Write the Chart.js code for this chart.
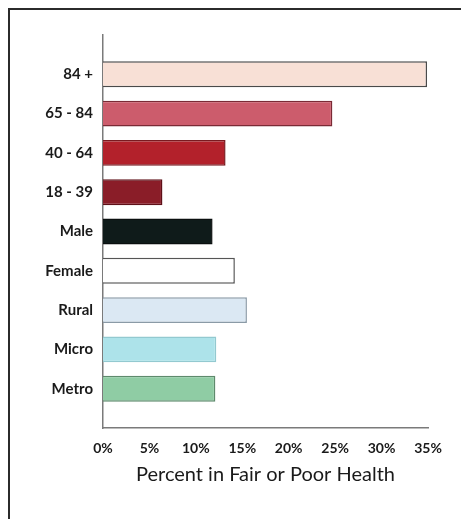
<!DOCTYPE html>
<html>
<head>
<meta charset="utf-8">
<script src="https://cdn.jsdelivr.net/npm/chart.js@4/dist/chart.umd.min.js"></script>
<style>
  html, body { margin: 0; padding: 0; background: #fff; }
  #wrap { width: 461px; height: 519px; }
</style>
</head>
<body>
<div id="wrap"><canvas id="myChart" width="461" height="519"></canvas></div>
<script>
// Data
var categories = ['84 +', '65 - 84', '40 - 64', '18 - 39', 'Male', 'Female', 'Rural', 'Micro', 'Metro'];
var percentFairPoor = [34.9, 24.7, 13.2, 6.4, 11.8, 14.2, 15.5, 12.2, 12.1];
var xTicks = [0, 5, 10, 15, 20, 25, 30, 35];

var fillColors = ['#f8e0d6', '#cc5c6c', '#b3212b', '#8a1d28', '#0f1b1a', '#ffffff', '#dbe8f3', '#ade3ea', '#8fcca4'];
var edgeColors = ['#4a4a4a', '#7a2a35', '#7a1a20', '#5e1018', '#0a0f0f', '#555555', '#8a9aa6', '#93c9d0', '#5e8a6c'];

var points = percentFairPoor.map(function (v, i) { return { x: v, y: i }; });

// outer frame
var framePlugin = {
  id: 'frame',
  beforeDraw: function (chart) {
    var c = chart.ctx;
    c.save();
    c.fillStyle = '#fff';
    c.fillRect(0, 0, chart.width, chart.height);
    c.strokeStyle = '#2b2b2b';
    c.lineWidth = 2;
    c.beginPath();
    c.moveTo(9, chart.height);
    c.lineTo(9, 9);
    c.lineTo(chart.width, 9);
    c.stroke();
    c.restore();
  }
};

var ctx = document.getElementById('myChart').getContext('2d');
var myChart = new Chart(ctx, {
  type: 'bar',
  data: {
    datasets: [{
      label: 'Percent in Fair or Poor Health',
      data: points,
      backgroundColor: fillColors,
      borderColor: edgeColors,
      borderWidth: 1.5,
      categoryPercentage: 1,
      barPercentage: 0.66
    }]
  },
  plugins: [framePlugin],
  options: {
    responsive: false,
    animation: false,
    indexAxis: 'y',
    layout: { padding: { left: 0, top: 35, right: 33, bottom: 28 } },
    plugins: {
      legend: { display: false },
      tooltip: { enabled: false }
    },
    scales: {
      y: {
        type: 'linear',
        reverse: true,
        offset: false,
        min: -1,
        max: 9,
        afterFit: function (s) { s.width = 103; },
        grid: { display: false, drawTicks: false, offset: false },
        border: { display: true, color: '#7a7a7a', width: 1.5 },
        ticks: {
          stepSize: 1,
          autoSkip: false,
          padding: 10,
          color: '#1a1a1a',
          font: { family: 'Lato', weight: 'bold', size: 15 },
          callback: function (v) { return categories[v] !== undefined ? categories[v] : ''; }
        }
      },
      x: {
        type: 'linear',
        min: xTicks[0],
        max: xTicks[xTicks.length - 1],
        afterFit: function (s) { s.height = 63; },
        afterBuildTicks: function (s) { s.ticks = xTicks.map(function (v) { return { value: v }; }); },
        grid: { display: false, drawTicks: false },
        border: { display: true, color: '#7a7a7a', width: 1.5 },
        ticks: {
          padding: 12,
          color: '#1a1a1a',
          font: { family: 'Lato', weight: 'bold', size: 14 },
          callback: function (v) { return v + '%'; }
        },
        title: {
          display: true,
          text: 'Percent in Fair or Poor Health',
          color: '#1a1a1a',
          font: { family: 'Lato', size: 20 },
          padding: { top: 10 }
        }
      }
    }
  }
});
</script>
</body>
</html>
